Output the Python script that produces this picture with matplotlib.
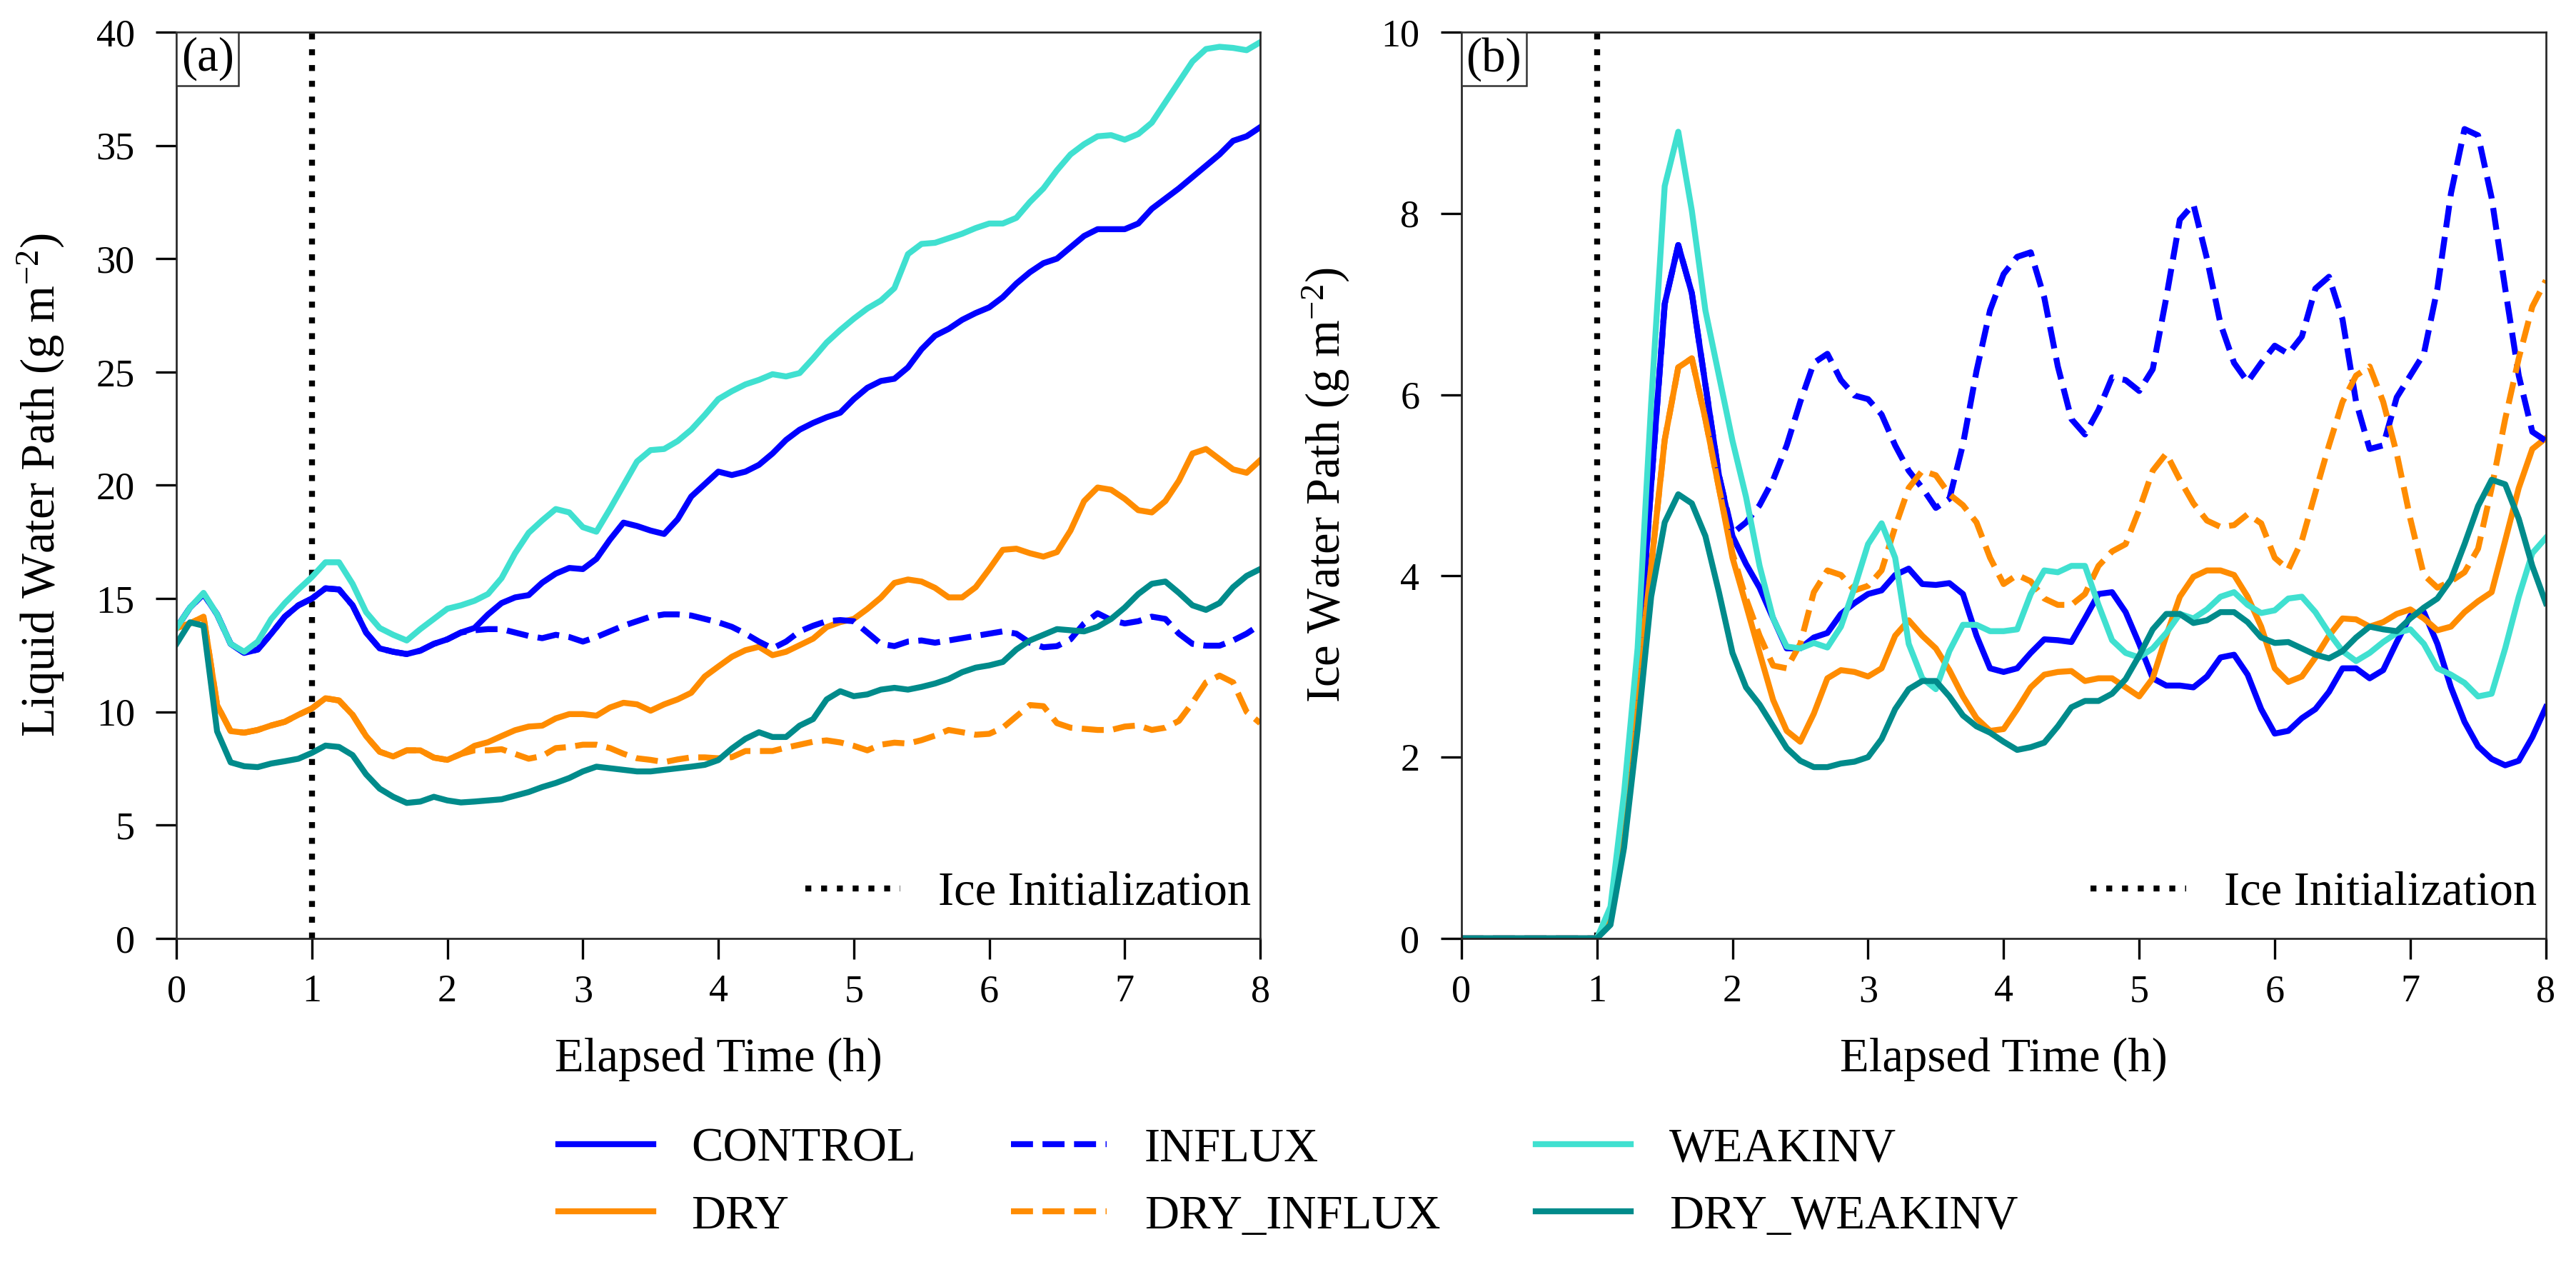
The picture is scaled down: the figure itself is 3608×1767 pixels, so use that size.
import numpy as np
import matplotlib
matplotlib.use("Agg")
from matplotlib import pyplot as plt
from matplotlib.offsetbox import AnchoredText

plt.rcParams['font.family'] = ['Liberation Serif', 'DejaVu Serif']
plt.rcParams['mathtext.fontset'] = 'custom'
plt.rcParams['mathtext.rm'] = 'Liberation Serif'
plt.rcParams['mathtext.it'] = 'Liberation Serif:italic'
plt.rcParams['axes.unicode_minus'] = True

# elapsed time (h), 0.1 h output interval
hours = np.round(np.arange(0, 8.01, 0.1), 1)

# ---- (a) liquid water path (g m-2) ----
lwp_control = [13.7, 14.6, 15.2, 14.3, 13.0, 12.6, 12.75, 13.45, 14.2, 14.7,
               15.0, 15.45, 15.4, 14.7, 13.5, 12.8, 12.65, 12.55, 12.7, 13.0,
               13.2, 13.5, 13.7, 14.3, 14.8, 15.05, 15.15, 15.7, 16.1, 16.35,
               16.3, 16.75, 17.6, 18.35, 18.2, 18.0, 17.85, 18.5, 19.5, 20.05,
               20.6, 20.45, 20.6, 20.9, 21.4, 22.0, 22.45, 22.75, 23.0, 23.2,
               23.8, 24.3, 24.6, 24.7, 25.2, 26.0, 26.6, 26.9, 27.3, 27.6,
               27.85, 28.3, 28.9, 29.4, 29.8, 30.0, 30.5, 31.0, 31.3, 31.3,
               31.3, 31.55, 32.2, 32.65, 33.1, 33.6, 34.1, 34.6, 35.2, 35.4,
               35.8]
lwp_dry = [13.7, 13.9, 14.2, 10.3, 9.15, 9.08, 9.2, 9.4, 9.56, 9.87,
           10.15, 10.6, 10.5, 9.87, 8.93, 8.24, 8.03, 8.3, 8.3, 7.98,
           7.88, 8.14, 8.5, 8.66, 8.93, 9.19, 9.35, 9.39, 9.71, 9.9,
           9.9, 9.83, 10.19, 10.4, 10.33, 10.05, 10.33, 10.55, 10.84, 11.56,
           12.0, 12.43, 12.72, 12.87, 12.5, 12.65, 12.94, 13.23, 13.74, 13.96,
           14.1, 14.54, 15.04, 15.69, 15.84, 15.75, 15.47, 15.05, 15.05, 15.5,
           16.3, 17.15, 17.2, 17.0, 16.85, 17.05, 18.0, 19.3, 19.9, 19.8,
           19.4, 18.9, 18.8, 19.3, 20.2, 21.4, 21.6, 21.15, 20.7, 20.55,
           21.1]
# INFLUX runs follow their base runs until ~2.1 h
lwp_influx = lwp_control[:22] + [
    13.6, 13.65, 13.65, 13.5, 13.35, 13.25, 13.4, 13.3,
    13.1, 13.3, 13.55, 13.8, 14.0, 14.2, 14.3, 14.3, 14.25, 14.1,
    13.95, 13.75, 13.45, 13.1, 12.8, 13.1, 13.55, 13.8, 14.0, 14.05,
    14.0, 13.5, 13.0, 12.9, 13.1, 13.15, 13.05, 13.15, 13.25, 13.35,
    13.45, 13.55, 13.45, 13.05, 12.85, 12.9, 13.2, 13.9, 14.35, 14.05,
    13.9, 14.0, 14.2, 14.1, 13.45, 13.0, 12.92, 12.92, 13.15, 13.45,
    13.85]
lwp_dry_influx = lwp_dry[:22] + [
    8.3, 8.3, 8.35, 8.14, 7.93, 8.05, 8.4, 8.45,
    8.55, 8.55, 8.4, 8.15, 7.95, 7.88, 7.78, 7.9, 7.99, 7.99,
    7.95, 8.0, 8.27, 8.27, 8.27, 8.42, 8.55, 8.68, 8.74, 8.65,
    8.5, 8.3, 8.55, 8.64, 8.6, 8.75, 8.95, 9.2, 9.1, 8.99,
    9.03, 9.3, 9.8, 10.3, 10.25, 9.5, 9.3, 9.25, 9.2, 9.2,
    9.35, 9.4, 9.2, 9.3, 9.6, 10.4, 11.3, 11.6, 11.3, 10.0,
    9.5]
lwp_weakinv = [13.7, 14.6, 15.25, 14.3, 13.0, 12.65, 13.1, 14.1, 14.8, 15.4,
               15.95, 16.6, 16.6, 15.65, 14.4, 13.7, 13.4, 13.15, 13.65, 14.1,
               14.55, 14.7, 14.9, 15.2, 15.9, 17.0, 17.9, 18.45, 18.95, 18.8,
               18.15, 17.95, 18.95, 20.0, 21.05, 21.55, 21.6, 21.95, 22.45, 23.1,
               23.8, 24.15, 24.45, 24.65, 24.9, 24.8, 24.95, 25.6, 26.3, 26.85,
               27.35, 27.8, 28.15, 28.7, 30.2, 30.65, 30.7, 30.9, 31.1, 31.35,
               31.55, 31.55, 31.8, 32.5, 33.1, 33.9, 34.6, 35.05, 35.4, 35.45,
               35.25, 35.5, 36.0, 36.9, 37.8, 38.7, 39.25, 39.35, 39.3, 39.2,
               39.55]
lwp_dry_weakinv = [13.0, 13.95, 13.8, 9.14, 7.77, 7.6, 7.56, 7.72, 7.82, 7.93,
                   8.19, 8.51, 8.45, 8.09, 7.24, 6.61, 6.25, 5.98, 6.04, 6.25,
                   6.09, 6.0, 6.04, 6.09, 6.14, 6.3, 6.46, 6.68, 6.86, 7.08,
                   7.37, 7.58, 7.51, 7.44, 7.37, 7.37, 7.44, 7.51, 7.58, 7.66,
                   7.87, 8.38, 8.81, 9.1, 8.89, 8.89, 9.39, 9.68, 10.55, 10.91,
                   10.69, 10.77, 10.98, 11.06, 10.98, 11.1, 11.25, 11.45, 11.75, 11.95,
                   12.05, 12.2, 12.75, 13.15, 13.4, 13.65, 13.6, 13.55, 13.75, 14.1,
                   14.6, 15.2, 15.65, 15.75, 15.25, 14.7, 14.5, 14.8, 15.5, 16.0,
                   16.3]

# ---- (b) ice water path (g m-2), no ice before 1 h ----
iwp_control = [0.0] * 11 + [
    0.3, 1.3, 2.9, 5.0, 7.0, 7.65, 7.12, 6.11, 5.11,
    4.44, 4.13, 3.87, 3.53, 3.2, 3.2, 3.32, 3.37, 3.58, 3.7,
    3.8, 3.84, 4.01, 4.08, 3.91, 3.9, 3.92, 3.8, 3.34, 2.98,
    2.94, 2.98, 3.15, 3.3, 3.29, 3.27, 3.53, 3.8, 3.82, 3.6,
    3.25, 2.87, 2.79, 2.79, 2.77, 2.89, 3.1, 3.13, 2.91, 2.53,
    2.26, 2.29, 2.43, 2.53, 2.72, 2.98, 2.98, 2.87, 2.96, 3.27,
    3.56, 3.6, 3.25, 2.77, 2.39, 2.12, 1.98, 1.91, 1.96, 2.22,
    2.55]
iwp_dry = [0.0] * 11 + [
    0.3, 1.3, 2.8, 4.1, 5.5, 6.3, 6.4, 5.73, 4.97,
    4.2, 3.68, 3.15, 2.63, 2.29, 2.17, 2.48, 2.87, 2.96, 2.94,
    2.89, 2.98, 3.34, 3.51, 3.34, 3.2, 2.96, 2.67, 2.43, 2.29,
    2.31, 2.53, 2.77, 2.91, 2.94, 2.95, 2.84, 2.87, 2.87, 2.77,
    2.67, 2.87, 3.34, 3.77, 3.99, 4.06, 4.06, 4.01, 3.77, 3.44,
    2.98, 2.83, 2.89, 3.1, 3.34, 3.53, 3.52, 3.44, 3.49, 3.58,
    3.63, 3.53, 3.4, 3.44, 3.6, 3.72, 3.82, 4.39, 4.97, 5.4,
    5.52]
iwp_influx = iwp_control[:20] + [
    4.47, 4.59, 4.78, 5.06, 5.44, 5.92, 6.35, 6.45, 6.16, 5.99,
    5.95, 5.78, 5.44, 5.16, 4.97, 4.75, 4.85, 5.45, 6.26, 6.93,
    7.33, 7.52, 7.57, 7.07, 6.31, 5.73, 5.56, 5.83, 6.19, 6.16,
    6.04, 6.28, 7.07, 7.93, 8.1, 7.5, 6.78, 6.35, 6.14, 6.35,
    6.54, 6.45, 6.64, 7.17, 7.3, 6.83, 5.92, 5.4, 5.44, 5.97,
    6.21, 6.45, 7.17, 8.22, 8.93, 8.86, 8.17, 7.17, 6.21, 5.59,
    5.49]
iwp_dry_influx = iwp_dry[:20] + [
    4.25, 3.75, 3.34, 3.01, 2.98, 3.25, 3.82, 4.06, 4.01, 3.84,
    3.89, 4.06, 4.54, 4.97, 5.16, 5.11, 4.9, 4.78, 4.59, 4.2,
    3.91, 4.01, 3.94, 3.75, 3.68, 3.68, 3.8, 4.11, 4.27, 4.35,
    4.73, 5.16, 5.35, 5.06, 4.8, 4.61, 4.54, 4.56, 4.68, 4.58,
    4.2, 4.07, 4.39, 4.92, 5.44, 5.92, 6.21, 6.31, 5.92, 5.35,
    4.63, 4.01, 3.87, 3.94, 4.04, 4.3, 4.97, 5.73, 6.4, 6.97,
    7.26]
iwp_weakinv = [0.0] * 11 + [
    0.35, 1.6, 3.2, 5.9, 8.3, 8.9, 8.03, 6.93, 6.21,
    5.49, 4.87, 4.11, 3.53, 3.22, 3.2, 3.26, 3.21, 3.44, 3.87,
    4.35, 4.58, 4.2, 3.25, 2.87, 2.75, 3.17, 3.46, 3.46, 3.39,
    3.39, 3.41, 3.8, 4.06, 4.04, 4.11, 4.11, 3.68, 3.29, 3.15,
    3.1, 3.2, 3.37, 3.58, 3.53, 3.63, 3.77, 3.82, 3.68, 3.59,
    3.62, 3.75, 3.77, 3.6, 3.37, 3.17, 3.06, 3.15, 3.27, 3.37,
    3.41, 3.25, 2.98, 2.91, 2.82, 2.67, 2.7, 3.2, 3.77, 4.25,
    4.42]
iwp_dry_weakinv = [0.0] * 11 + [
    0.15, 1.0, 2.3, 3.77, 4.59, 4.9, 4.8, 4.44, 3.82,
    3.15, 2.77, 2.58, 2.34, 2.1, 1.96, 1.89, 1.89, 1.93, 1.95,
    2.0, 2.2, 2.53, 2.75, 2.84, 2.84, 2.67, 2.46, 2.34, 2.27,
    2.17, 2.08, 2.11, 2.16, 2.34, 2.55, 2.62, 2.62, 2.7, 2.86,
    3.12, 3.41, 3.58, 3.58, 3.48, 3.51, 3.6, 3.6, 3.49, 3.32,
    3.26, 3.27, 3.2, 3.13, 3.09, 3.17, 3.32, 3.44, 3.41, 3.39,
    3.53, 3.65, 3.75, 3.96, 4.35, 4.77, 5.06, 5.01, 4.63, 4.11,
    3.7]

ice_init_time = 1.0

runs = ["CONTROL", "DRY", "INFLUX", "DRY_INFLUX", "WEAKINV", "DRY_WEAKINV"]
run_colors = {"CONTROL": "blue", "DRY": "darkorange", "INFLUX": "blue",
              "DRY_INFLUX": "darkorange", "WEAKINV": "turquoise",
              "DRY_WEAKINV": "darkcyan"}
run_styles = {"CONTROL": "-", "DRY": "-", "INFLUX": "--", "DRY_INFLUX": "--",
              "WEAKINV": "-", "DRY_WEAKINV": "-"}
lwp = {"CONTROL": lwp_control, "DRY": lwp_dry, "INFLUX": lwp_influx,
       "DRY_INFLUX": lwp_dry_influx, "WEAKINV": lwp_weakinv,
       "DRY_WEAKINV": lwp_dry_weakinv}
iwp = {"CONTROL": iwp_control, "DRY": iwp_dry, "INFLUX": iwp_influx,
       "DRY_INFLUX": iwp_dry_influx, "WEAKINV": iwp_weakinv,
       "DRY_WEAKINV": iwp_dry_weakinv}

fig = plt.figure(figsize=(3608 / 300, 1767 / 300), dpi=300)
ax_a = fig.add_axes([0.0685, 0.2564, 0.4207, 0.7182])
ax_b = fig.add_axes([0.5673, 0.2564, 0.4210, 0.7182])

panels = [(ax_a, lwp, 40, 5, "Liquid Water Path (g m$^{-2}$)", "(a)"),
          (ax_b, iwp, 10, 2, "Ice Water Path (g m$^{-2}$)", "(b)")]

for ax, data, ytop, ystep, ylabel, tag in panels:
    vline = ax.axvline(ice_init_time, color="black", linestyle=":", linewidth=2)
    for run in runs:
        ax.plot(hours, data[run], color=run_colors[run], linestyle=run_styles[run],
                linewidth=2, label=run)
    ax.set_xlim(0, 8)
    ax.set_ylim(0, ytop)
    ax.set_xticks(np.arange(0, 9, 1))
    ax.set_yticks(np.arange(0, ytop + 0.1, ystep))
    ax.tick_params(axis="both", direction="out", length=7, width=0.8, labelsize=13)
    ax.tick_params(axis="x", pad=5)
    ax.tick_params(axis="y", pad=7)
    for sp in ax.spines.values():
        sp.set_linewidth(0.65)
        sp.set_color("0.15")
    ax.set_xlabel("Elapsed Time (h)", fontsize=16, labelpad=9)
    ax.set_ylabel(ylabel, fontsize=16, labelpad=10)
    ax.legend([vline], ["Ice Initialization"], loc="lower right", frameon=False,
              fontsize=16, borderaxespad=0.2, bbox_to_anchor=(1.018, -0.0055))
    at = AnchoredText(tag, loc="upper left", pad=0.1, borderpad=0,
                      prop=dict(size=16), frameon=True)
    at.patch.set_linewidth(0.6)
    at.patch.set_edgecolor("0.2")
    ax.add_artist(at)

handles, labels = ax_a.get_legend_handles_labels()
fig.legend(handles, labels, loc="lower center", ncol=3, frameon=False,
           fontsize=16, bbox_to_anchor=(0.5, -0.015))

fig.savefig("out.png", dpi=300)
